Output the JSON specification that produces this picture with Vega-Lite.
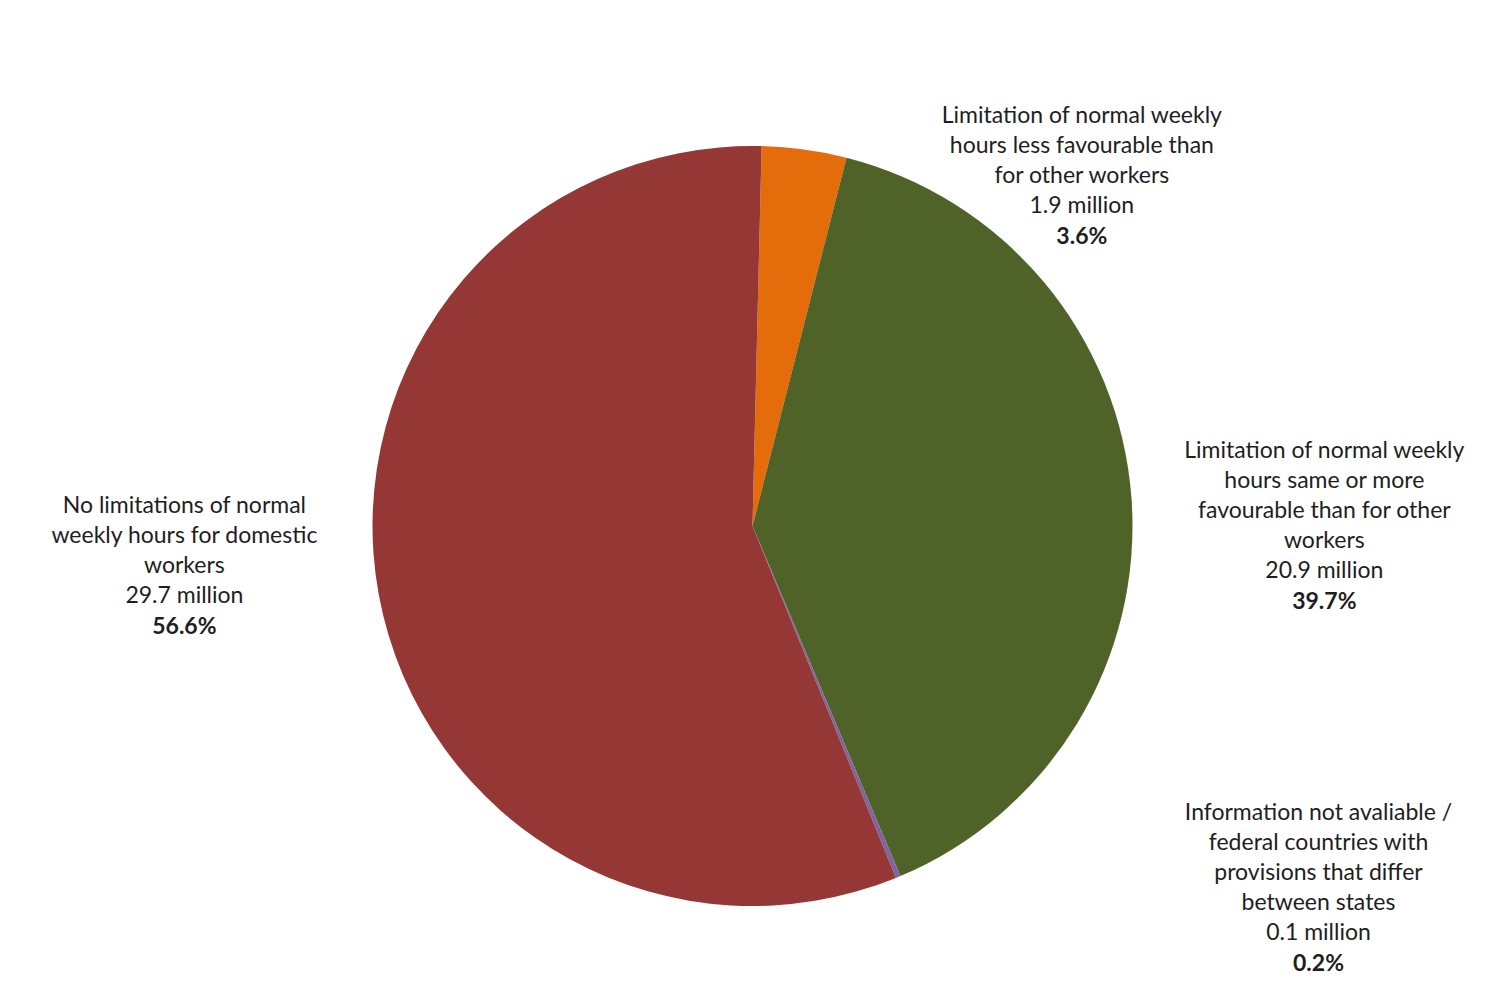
{
  "$schema": "https://vega.github.io/schema/vega-lite/v6.json",
  "width": 1497,
  "height": 922,
  "autosize": {"type": "none"},
  "padding": {"left": 4, "top": 65, "right": 0, "bottom": 0},
  "background": "white",
  "config": {"view": {"stroke": null}, "text": {"font": "Lato", "fontSize": 23, "lineHeight": 30, "color": "#1e1e1e", "align": "center", "baseline": "middle"}},
  "data": {"values": [
    {"order": 1, "category": "Limitation of normal weekly hours less favourable than for other workers", "millions": 1.9, "share": 0.036, "lines": ["Limitation of normal weekly", "hours less favourable than", "for other workers", "1.9 million"]},
    {"order": 2, "category": "Limitation of normal weekly hours same or more favourable than for other workers", "millions": 20.9, "share": 0.397, "lines": ["Limitation of normal weekly", "hours same or more", "favourable than for other", "workers", "20.9 million"]},
    {"order": 3, "category": "Information not avaliable / federal countries with provisions that differ between states", "millions": 0.1, "share": 0.002, "lines": ["Information not avaliable /", "federal countries with", "provisions that differ", "between states", "0.1 million"]},
    {"order": 4, "category": "No limitations of normal weekly hours for domestic workers", "millions": 29.7, "share": 0.566, "lines": ["No limitations of normal", "weekly hours for domestic", "workers", "29.7 million"]}
  ]},
  "encoding": {
    "theta": {"field": "share", "type": "quantitative", "stack": true, "scale": {"range": [0.024, 6.3072]}},
    "order": {"field": "order", "type": "quantitative"},
    "color": {"field": "category", "type": "nominal", "legend": null, "scale": {"domain": ["Limitation of normal weekly hours less favourable than for other workers", "Limitation of normal weekly hours same or more favourable than for other workers", "Information not avaliable / federal countries with provisions that differ between states", "No limitations of normal weekly hours for domestic workers"], "range": ["#E46C0A", "#4F6228", "#8064A2", "#953735"]}}
  },
  "layer": [
    {"mark": {"type": "arc", "radius": 380}},
    {"mark": {"type": "text", "radius": 420, "dx": 272, "dy": 6}, "encoding": {"color": {"value": "#1e1e1e"}, "text": {"condition": {"test": "datum.order == 1", "field": "lines"}, "value": ""}}},
    {"mark": {"type": "text", "radius": 420, "dx": 272, "dy": 127, "fontWeight": "bold"}, "encoding": {"color": {"value": "#1e1e1e"}, "text": {"condition": {"test": "datum.order == 1", "field": "share", "format": ".1%"}, "value": ""}}},
    {"mark": {"type": "text", "radius": 420, "dx": 153, "dy": -44}, "encoding": {"color": {"value": "#1e1e1e"}, "text": {"condition": {"test": "datum.order == 2", "field": "lines"}, "value": ""}}},
    {"mark": {"type": "text", "radius": 420, "dx": 153, "dy": 107, "fontWeight": "bold"}, "encoding": {"color": {"value": "#1e1e1e"}, "text": {"condition": {"test": "datum.order == 2", "field": "share", "format": ".1%"}, "value": ""}}},
    {"mark": {"type": "text", "radius": 420, "dx": 405, "dy": -101}, "encoding": {"color": {"value": "#1e1e1e"}, "text": {"condition": {"test": "datum.order == 3", "field": "lines"}, "value": ""}}},
    {"mark": {"type": "text", "radius": 420, "dx": 405, "dy": 50, "fontWeight": "bold"}, "encoding": {"color": {"value": "#1e1e1e"}, "text": {"condition": {"test": "datum.order == 3", "field": "share", "format": ".1%"}, "value": ""}}},
    {"mark": {"type": "text", "radius": 420, "dx": -155, "dy": -96}, "encoding": {"color": {"value": "#1e1e1e"}, "text": {"condition": {"test": "datum.order == 4", "field": "lines"}, "value": ""}}},
    {"mark": {"type": "text", "radius": 420, "dx": -155, "dy": 25, "fontWeight": "bold"}, "encoding": {"color": {"value": "#1e1e1e"}, "text": {"condition": {"test": "datum.order == 4", "field": "share", "format": ".1%"}, "value": ""}}}
  ]
}
